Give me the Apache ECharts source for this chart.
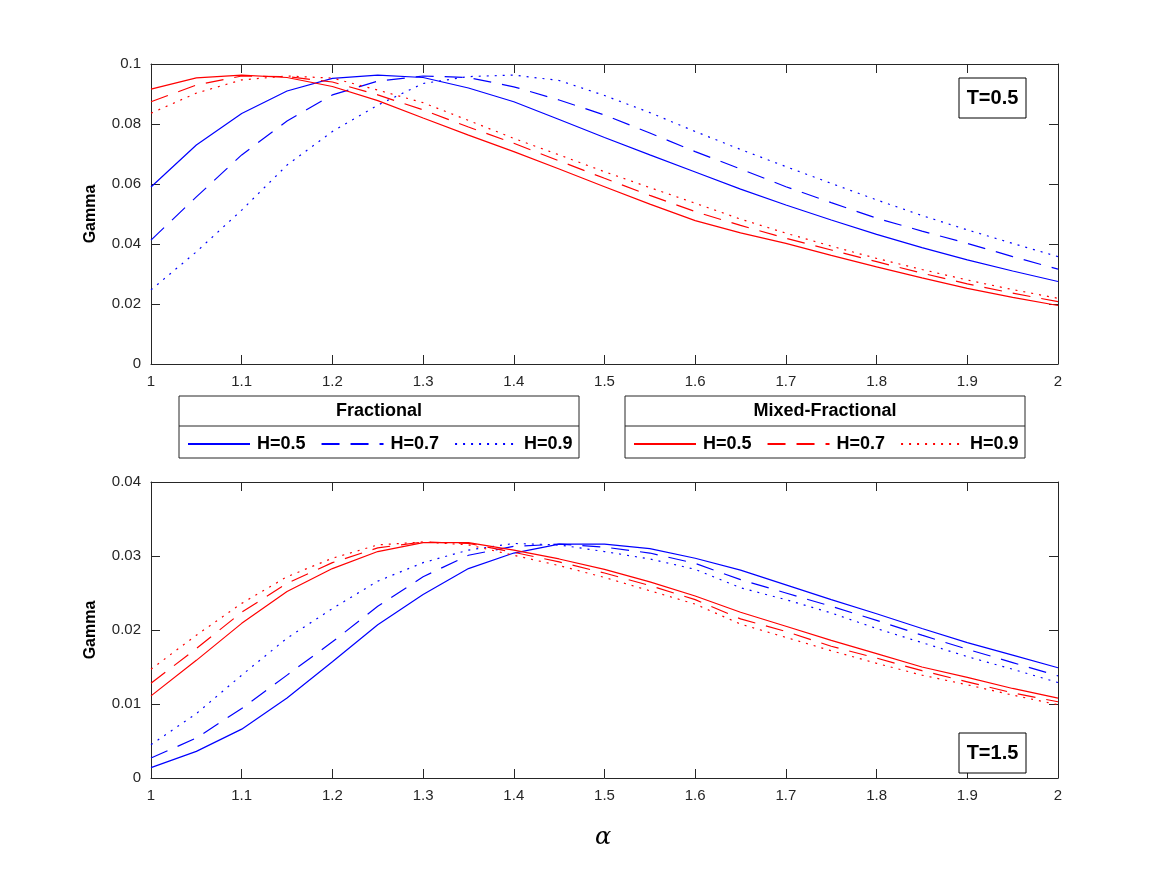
<!DOCTYPE html>
<html>
<head>
<meta charset="utf-8">
<script src="https://cdn.jsdelivr.net/npm/echarts@6/dist/echarts.min.js"></script>
<style>
  html, body { margin: 0; padding: 0; background: #fff; }
  #chart { width: 1167px; height: 875px; }
</style>
</head>
<body>
<div id="chart"></div>
<script>
// alpha values on the x axis
const alpha = [1.00, 1.05, 1.10, 1.15, 1.20, 1.25, 1.30, 1.35, 1.40, 1.45, 1.50,
  1.55, 1.60, 1.65, 1.70, 1.75, 1.80, 1.85, 1.90, 1.95, 2.00]

// T = 0.5 (top panel)
const fracT05H05 = [0.0590, 0.0730, 0.0835, 0.0910, 0.0952, 0.0963, 0.0955, 0.0920, 0.0874, 0.0815, 0.0755,
  0.0697, 0.0640, 0.0583, 0.0530, 0.0480, 0.0432, 0.0388, 0.0347, 0.0310, 0.0275]
const fracT05H07 = [0.0413, 0.0557, 0.0697, 0.0810, 0.0897, 0.0943, 0.0960, 0.0955, 0.0924, 0.0880, 0.0830,
  0.0770, 0.0708, 0.0650, 0.0591, 0.0538, 0.0486, 0.0443, 0.0402, 0.0358, 0.0316]
const fracT05H09 = [0.0247, 0.0374, 0.0513, 0.0663, 0.0775, 0.0863, 0.0935, 0.0958, 0.0963, 0.0945, 0.0895,
  0.0838, 0.0775, 0.0715, 0.0658, 0.0602, 0.0547, 0.0495, 0.0447, 0.0402, 0.0358]
const mixT05H05 = [0.0916, 0.0954, 0.0963, 0.0955, 0.0925, 0.0878, 0.0820, 0.0763, 0.0708, 0.0650, 0.0591,
  0.0533, 0.0478, 0.0437, 0.0402, 0.0362, 0.0324, 0.0287, 0.0252, 0.0222, 0.0195]
const mixT05H07 = [0.0874, 0.0930, 0.0960, 0.0958, 0.0940, 0.0897, 0.0847, 0.0790, 0.0736, 0.0677, 0.0619,
  0.0562, 0.0508, 0.0462, 0.0419, 0.0380, 0.0341, 0.0303, 0.0267, 0.0236, 0.0208]
const mixT05H09 = [0.0836, 0.0903, 0.0947, 0.0960, 0.0953, 0.0913, 0.0871, 0.0812, 0.0752, 0.0697, 0.0641,
  0.0588, 0.0536, 0.0483, 0.0436, 0.0393, 0.0352, 0.0315, 0.0280, 0.0248, 0.0219]

// T = 1.5 (bottom panel)
const fracT15H05 = [0.0014, 0.0036, 0.0066, 0.0108, 0.0157, 0.0207, 0.0248, 0.0283, 0.0304, 0.0316, 0.0316,
  0.0310, 0.0297, 0.0281, 0.0261, 0.0241, 0.0222, 0.0202, 0.0183, 0.0166, 0.0149]
const fracT15H07 = [0.0027, 0.0054, 0.0094, 0.0139, 0.0184, 0.0232, 0.0272, 0.0301, 0.0313, 0.0316, 0.0312,
  0.0304, 0.0290, 0.0268, 0.0250, 0.0232, 0.0213, 0.0193, 0.0174, 0.0156, 0.0138]
const fracT15H09 = [0.0045, 0.0087, 0.0139, 0.0189, 0.0229, 0.0266, 0.0291, 0.0308, 0.0317, 0.0315, 0.0306,
  0.0296, 0.0282, 0.0257, 0.0241, 0.0223, 0.0202, 0.0183, 0.0164, 0.0147, 0.0129]
const mixT15H05 = [0.0111, 0.0159, 0.0209, 0.0252, 0.0283, 0.0306, 0.0318, 0.0318, 0.0308, 0.0296, 0.0282,
  0.0265, 0.0246, 0.0224, 0.0205, 0.0186, 0.0168, 0.0150, 0.0136, 0.0121, 0.0108]
const mixT15H07 = [0.0128, 0.0175, 0.0224, 0.0263, 0.0291, 0.0311, 0.0319, 0.0317, 0.0305, 0.0292, 0.0277,
  0.0260, 0.0241, 0.0215, 0.0198, 0.0178, 0.0162, 0.0145, 0.0130, 0.0115, 0.0103]
const mixT15H09 = [0.0147, 0.0193, 0.0236, 0.0272, 0.0297, 0.0315, 0.0319, 0.0315, 0.0301, 0.0287, 0.0271,
  0.0253, 0.0235, 0.0208, 0.0190, 0.0172, 0.0155, 0.0139, 0.0126, 0.0112, 0.0099]

const hLabels = ['H=0.5', 'H=0.7', 'H=0.9']

const font = '"Liberation Sans", Arial, Helvetica, sans-serif'
const axisColor = '#262626'
const BLUE = '#0000ff'
const RED = '#ff0000'
const dashStyles = ['solid', [18, 11], [2, 6]]

const chart = echarts.init(document.getElementById('chart'), null, { renderer: 'canvas' })

function pairs(ys) {
  return alpha.map((a, i) => [a, ys[i]])
}

function mkSeries(name, ys, color, dash, gridIdx) {
  return {
    name,
    type: 'line',
    xAxisIndex: gridIdx * 2,
    yAxisIndex: gridIdx * 2,
    data: pairs(ys),
    showSymbol: false,
    symbol: 'none',
    silent: true,
    animation: false,
    lineStyle: { color, width: 1.2, type: dash },
    itemStyle: { color },
  }
}

function xAxes(gridIndex) {
  const base = {
    type: 'value', gridIndex, min: 1, max: 2, interval: 0.1,
    axisLine: { show: true, onZero: false, lineStyle: { color: axisColor, width: 1 } },
    axisTick: { show: true, inside: true, length: 9, lineStyle: { color: axisColor } },
    splitLine: { show: false },
  }
  return [
    Object.assign({}, base, {
      position: 'bottom',
      axisLabel: {
        color: axisColor, fontFamily: font, fontSize: 15, margin: 10,
        formatter: v => String(Math.round(v * 10) / 10),
      },
    }),
    Object.assign({}, base, { position: 'top', axisLabel: { show: false } }),
  ]
}

function yAxes(gridIndex, max, interval) {
  const base = {
    type: 'value', gridIndex, min: 0, max, interval,
    axisLine: { show: true, onZero: false, lineStyle: { color: axisColor, width: 1 } },
    axisTick: { show: true, inside: true, length: 9, lineStyle: { color: axisColor } },
    splitLine: { show: false },
  }
  return [
    Object.assign({}, base, {
      position: 'left',
      name: 'Gamma',
      nameLocation: 'middle',
      nameGap: 52,
      nameTextStyle: { color: '#000', fontFamily: font, fontSize: 16, fontWeight: 'bold' },
      axisLabel: {
        color: axisColor, fontFamily: font, fontSize: 15, margin: 10,
        formatter: v => String(Math.round(v * 100) / 100),
      },
    }),
    Object.assign({}, base, { position: 'right', axisLabel: { show: false } }),
  ]
}

const series = [
  mkSeries('Fractional ' + hLabels[0], fracT05H05, BLUE, dashStyles[0], 0),
  mkSeries('Fractional ' + hLabels[1], fracT05H07, BLUE, dashStyles[1], 0),
  mkSeries('Fractional ' + hLabels[2], fracT05H09, BLUE, dashStyles[2], 0),
  mkSeries('Mixed ' + hLabels[0], mixT05H05, RED, dashStyles[0], 0),
  mkSeries('Mixed ' + hLabels[1], mixT05H07, RED, dashStyles[1], 0),
  mkSeries('Mixed ' + hLabels[2], mixT05H09, RED, dashStyles[2], 0),
  mkSeries('Fractional ' + hLabels[0], fracT15H05, BLUE, dashStyles[0], 1),
  mkSeries('Fractional ' + hLabels[1], fracT15H07, BLUE, dashStyles[1], 1),
  mkSeries('Fractional ' + hLabels[2], fracT15H09, BLUE, dashStyles[2], 1),
  mkSeries('Mixed ' + hLabels[0], mixT15H05, RED, dashStyles[0], 1),
  mkSeries('Mixed ' + hLabels[1], mixT15H07, RED, dashStyles[1], 1),
  mkSeries('Mixed ' + hLabels[2], mixT15H09, RED, dashStyles[2], 1),
]

function legendAt(left, prefix) {
  return {
    orient: 'horizontal',
    left,
    top: 435,
    padding: 0,
    itemWidth: 62,
    itemHeight: 14,
    itemGap: 15,
    selectedMode: false,
    itemStyle: { opacity: 0, borderWidth: 0 },
    data: hLabels.map(h => prefix + ' ' + h),
    formatter: name => name.replace(/^(Fractional|Mixed) /, ''),
    textStyle: { color: '#000', fontFamily: font, fontSize: 18, fontWeight: 'bold', width: 50, padding: [0, 0, 0, 2] },
  }
}

// boxed legend frame with title
function legendFrame(x, title) {
  return [
    {
      type: 'rect', z: -1,
      shape: { x, y: 396, width: 400, height: 62 },
      style: { fill: '#fff', stroke: axisColor, lineWidth: 1 },
    },
    {
      type: 'line', z: -1,
      shape: { x1: x, y1: 426, x2: x + 400, y2: 426 },
      style: { stroke: axisColor, lineWidth: 1 },
    },
    {
      type: 'text', x: x + 200, y: 411,
      style: {
        text: title, fill: '#000', font: 'bold 18px ' + font,
        align: 'center', verticalAlign: 'middle',
      },
    },
  ]
}

function tBox(x, y, label) {
  return [
    {
      type: 'rect', z: 3,
      shape: { x, y, width: 67, height: 40 },
      style: { fill: '#fff', stroke: '#000', lineWidth: 1 },
    },
    {
      type: 'text', z: 4, x: x + 33.5, y: y + 20,
      style: {
        text: label, fill: '#000', font: 'bold 20px ' + font,
        align: 'center', verticalAlign: 'middle',
      },
    },
  ]
}

const option = {
  backgroundColor: '#fff',
  animation: false,
  grid: [
    { left: 151, top: 64, width: 907, height: 300 },
    { left: 151, top: 482, width: 907, height: 296 },
  ],
  xAxis: [...xAxes(0), ...xAxes(1)],
  yAxis: [...yAxes(0, 0.1, 0.02), ...yAxes(1, 0.04, 0.01)],
  legend: [legendAt(187, 'Fractional'), legendAt(633, 'Mixed')],
  graphic: [
    ...legendFrame(179, 'Fractional'),
    ...legendFrame(625, 'Mixed-Fractional'),
    ...tBox(959, 78, 'T=0.5'),
    ...tBox(959, 733, 'T=1.5'),
    {
      type: 'text', x: 603, y: 838,
      style: {
        text: 'α', fill: '#000', font: 'italic 24px "DejaVu Serif", "Liberation Serif", serif',
        align: 'center', verticalAlign: 'middle',
      },
    },
  ],
  series,
}

chart.setOption(option)
</script>
</body>
</html>
